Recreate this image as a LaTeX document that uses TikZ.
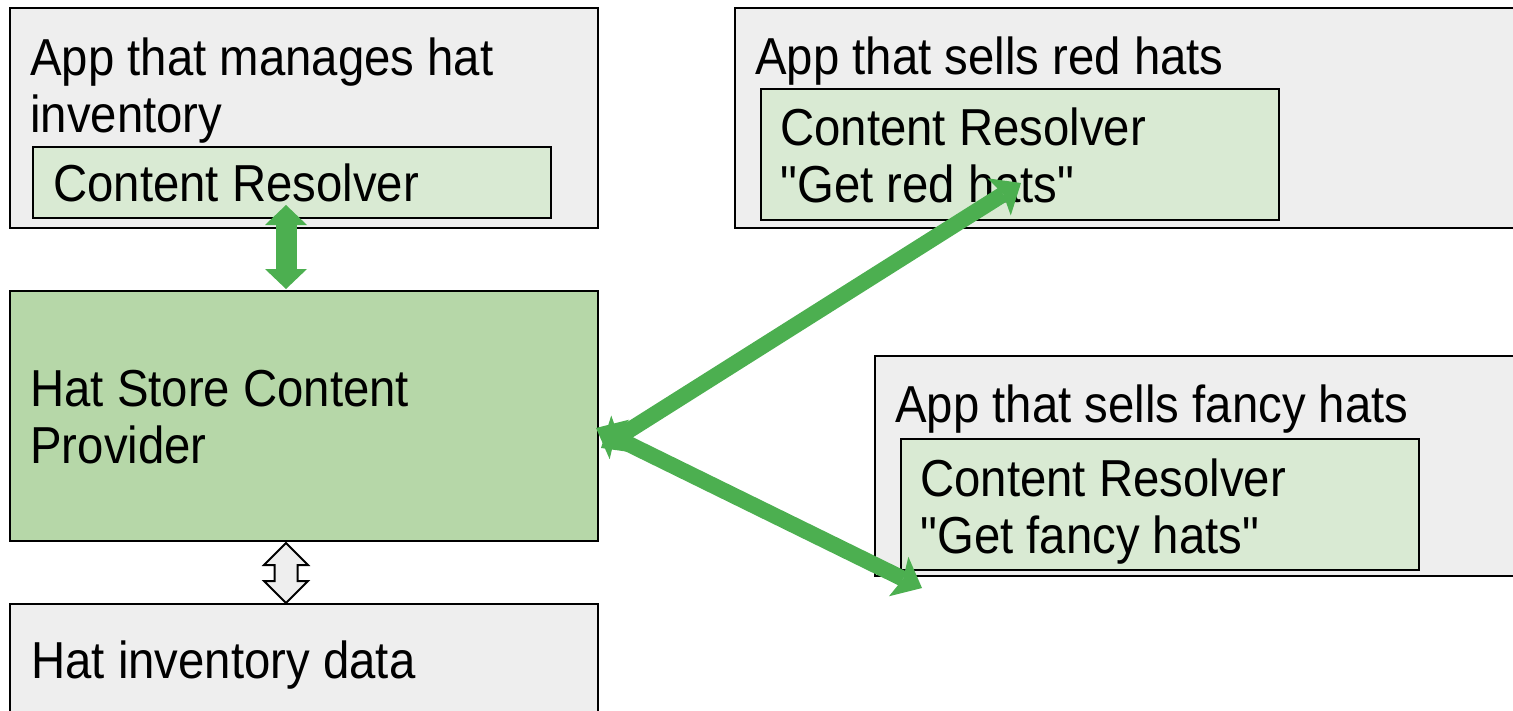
\documentclass[tikz,border=0pt]{standalone}
\usepackage{fontspec}
\setmainfont{Liberation Sans}[FakeStretch=0.91, Ligatures=TeXOff]
\usetikzlibrary{arrows.meta,shapes.arrows}
\definecolor{appgray}{HTML}{EEEEEE}
\definecolor{provgreen}{HTML}{B6D7A8}
\definecolor{resgreen}{HTML}{D9EAD3}
\definecolor{linkgreen}{HTML}{4CAF50}

\begin{document}
\begin{tikzpicture}[x=0.5pt, y=-0.5pt]
  \tikzstyle{box}=[draw, line width=1pt, rectangle, inner sep=0pt]
  \tikzstyle{app}=[box, fill=appgray]
  \tikzstyle{resolver}=[box, fill=resgreen, minimum width=259pt]
  \tikzstyle{txt}=[anchor=base west, inner sep=0pt, align=left, font=\fontsize{26}{28.5}\selectfont]
  \tikzstyle{sync}=[draw=linkgreen, line width=10.5pt, >={Triangle[length=10pt, width=21pt, line width=0pt]}, <->]
  \tikzstyle{link}=[draw=linkgreen, line width=8pt, >={Stealth[length=13pt, width=22pt, inset=2.5pt, line width=0pt]}, <->]

  \useasboundingbox (0,0) rectangle (1513,711);
  \clip (0,0) rectangle (1513,711);

  \node[app, minimum width=294pt, minimum height=110pt] (mgr) at (304,118) {};
  \node[resolver, minimum height=35.5pt] (mgrres) at (292,182.5) {};
  \node[txt] (mgrlbl) at (30,133) {App that manages hat\\inventory};
  \node[txt] (mgrreslbl) at (53,202) {Content Resolver};

  \node[box, fill=provgreen, minimum width=294pt, minimum height=125pt] (prov) at (304,416) {};
  \node[txt] (provlbl) at (30,463) {Hat Store Content\\Provider};

  \node[app, minimum width=294pt, minimum height=75pt] (data) at (304,679) {};
  \node[txt] (datalbl) at (31,678) {Hat inventory data};

  \node[app, minimum width=410pt, minimum height=110pt] (red) at (1145,118) {};
  \node[resolver, minimum height=65.5pt] (redres) at (1020,154.5) {};
  \node[txt] (redlbl) at (755,75) {App that sells red hats};
  \node[txt] (redreslbl) at (780,203) {Content Resolver\\"Get red hats"};

  \node[app, minimum width=340pt, minimum height=110pt] (fancy) at (1215,466) {};
  \node[resolver, minimum height=65.5pt] (fancyres) at (1160,504.5) {};
  \node[txt] (fancylbl) at (895,422) {App that sells fancy hats};
  \node[txt] (fancyreslbl) at (920,553) {Content Resolver\\"Get fancy hats"};

  % resolver <-> provider
  \coordinate (synctop) at (286,205);
  \coordinate (syncbot) at (286,289);
  \draw[sync] (synctop) -- (syncbot);

  % provider <-> data
  \node[double arrow, draw, line width=1pt, fill=appgray, rotate=90, minimum height=30pt,
        inner xsep=0pt, inner ysep=5.25pt, double arrow head extend=5.25pt] (store) at (286,573) {};

  % provider <-> other apps
  \coordinate (redfrom) at (601,448);
  \coordinate (redto) at (1021,183);
  \draw[link] (redfrom) -- (redto);
  \coordinate (fancyfrom) at (596,428);
  \coordinate (fancyto) at (922,588);
  \draw[link] (fancyfrom) -- (fancyto);
\end{tikzpicture}
\end{document}
